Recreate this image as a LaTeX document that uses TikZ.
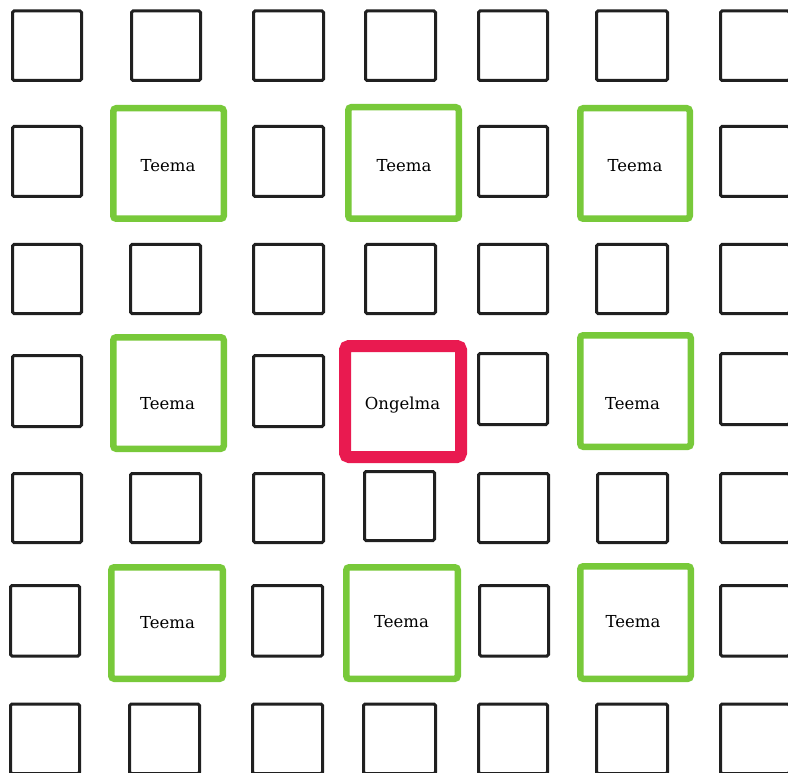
\documentclass[tikz,border=0pt]{standalone}
\usepackage{fontspec}
\setmainfont{DejaVu Serif}
\definecolor{boxline}{HTML}{202020}
\definecolor{teemagreen}{HTML}{78C93A}
\definecolor{ongelmared}{HTML}{E91A50}
\tikzset{
  blk/.style={draw=boxline, line width=3pt, rounded corners=1.5pt, fill=white, outer sep=0pt, inner sep=0pt},
  grn/.style={draw=teemagreen, line width=6.5pt, rounded corners=3pt, fill=white, outer sep=0pt, inner sep=0pt},
  redbox/.style={draw=ongelmared, line width=12pt, rounded corners=4pt, fill=white, outer sep=0pt, inner sep=0pt},
  lbl/.style={text=black, font=\fontsize{16.5pt}{19pt}\selectfont, inner sep=0pt, anchor=base}
}
% style, line width, name, x1, x2, y1, y2 (outer edges, px)
\newcommand{\bx}[7]{%
  \pgfmathsetmacro{\bxcx}{(#4+#5)/2}%
  \pgfmathsetmacro{\bxcy}{(#6+#7)/2}%
  \pgfmathsetmacro{\bxw}{#5-#4-#2}%
  \pgfmathsetmacro{\bxh}{#7-#6-#2}%
  \node[#1, minimum width=\bxw pt, minimum height=\bxh pt] (#3) at (\bxcx,\bxcy) {};}
\begin{document}
\begin{tikzpicture}[x=1pt,y=-1pt]
\useasboundingbox (0,0) rectangle (788,773);
\clip (0,0) rectangle (788,773);
\fill[white] (0,0) rectangle (788,773);
% row 0
\bx{blk}{3}{b00}{11}{83}{9.5}{82}
\bx{blk}{3}{b10}{130}{202}{9.5}{82}
\bx{blk}{3}{b20}{252}{325}{9.5}{82}
\bx{blk}{3}{b30}{364}{437}{9.5}{82}
\bx{blk}{3}{b40}{477}{549}{9.5}{82}
\bx{blk}{3}{b50}{595}{669}{9.5}{82}
\bx{blk}{3}{b60}{719}{791}{9.5}{82}
% row 1
\bx{blk}{3}{b01}{11}{83}{125}{198}
\bx{grn}{6.5}{g11}{110}{227}{105}{222}
\bx{blk}{3}{b21}{252}{325}{125}{198}
\bx{grn}{6.5}{g31}{345}{462}{104}{222}
\bx{blk}{3}{b41}{477}{549}{125}{198}
\bx{grn}{6.5}{g51}{577}{693}{105}{222}
\bx{blk}{3}{b61}{719}{791}{125}{198}
% row 2
\bx{blk}{3}{b02}{11}{83}{243}{315}
\bx{blk}{3}{b12}{129}{202}{243}{315}
\bx{blk}{3}{b22}{252}{325}{243}{315}
\bx{blk}{3}{b32}{364}{437}{243}{315}
\bx{blk}{3}{b42}{477}{549}{243}{315}
\bx{blk}{3}{b52}{595}{669}{243}{315}
\bx{blk}{3}{b62}{719}{791}{243}{315}
% row 3
\bx{blk}{3}{b03}{11}{83}{354}{428}
\bx{grn}{6.5}{g13}{110}{227}{334}{452}
\bx{blk}{3}{b23}{252}{325}{354}{428}
\bx{redbox}{12}{r33}{339}{467}{340}{463}
\bx{blk}{3}{b43}{477}{549}{352}{426}
\bx{grn}{6.5}{g53}{577}{694}{332}{450}
\bx{blk}{3}{b63}{719}{791}{352}{426}
% row 4
\bx{blk}{3}{b04}{11}{83}{472}{544}
\bx{blk}{3}{b14}{129}{202}{472}{544}
\bx{blk}{3}{b24}{252}{325}{472}{544}
\bx{blk}{3}{b34}{363}{436}{470}{542}
\bx{blk}{3}{b44}{477}{550}{472}{544}
\bx{blk}{3}{b54}{596}{669}{472}{544}
\bx{blk}{3}{b64}{719}{791}{472}{544}
% row 5
\bx{blk}{3}{b05}{9}{81}{584}{657.5}
\bx{grn}{6.5}{g15}{108}{226}{564}{682}
\bx{blk}{3}{b25}{251}{324}{584}{657.5}
\bx{grn}{6.5}{g35}{343}{461}{564}{682}
\bx{blk}{3}{b45}{478}{550}{584}{657.5}
\bx{grn}{6.5}{g55}{577}{694}{563}{682}
\bx{blk}{3}{b65}{719}{791}{584}{657.5}
% row 6
\bx{blk}{3}{b06}{9}{81}{702.5}{775}
\bx{blk}{3}{b16}{128}{201}{702.5}{775}
\bx{blk}{3}{b26}{251}{324}{702.5}{775}
\bx{blk}{3}{b36}{362}{437}{702.5}{775}
\bx{blk}{3}{b46}{477}{549}{702.5}{775}
\bx{blk}{3}{b56}{595}{669}{702.5}{775}
\bx{blk}{3}{b66}{719}{791}{702.5}{775}
% labels
\node[lbl] (t11) at (168,172) {Teema};
\node[lbl] (t31) at (404,172) {Teema};
\node[lbl] (t51) at (635,172) {Teema};
\node[lbl] (t13) at (167.5,409.5) {Teema};
\node[lbl] (t33) at (402.5,409) {Ongelma};
\node[lbl] (t53) at (632.5,409) {Teema};
\node[lbl] (t15) at (167.5,628) {Teema};
\node[lbl] (t35) at (401.5,627) {Teema};
\node[lbl] (t55) at (633,627) {Teema};
\end{tikzpicture}
\end{document}
